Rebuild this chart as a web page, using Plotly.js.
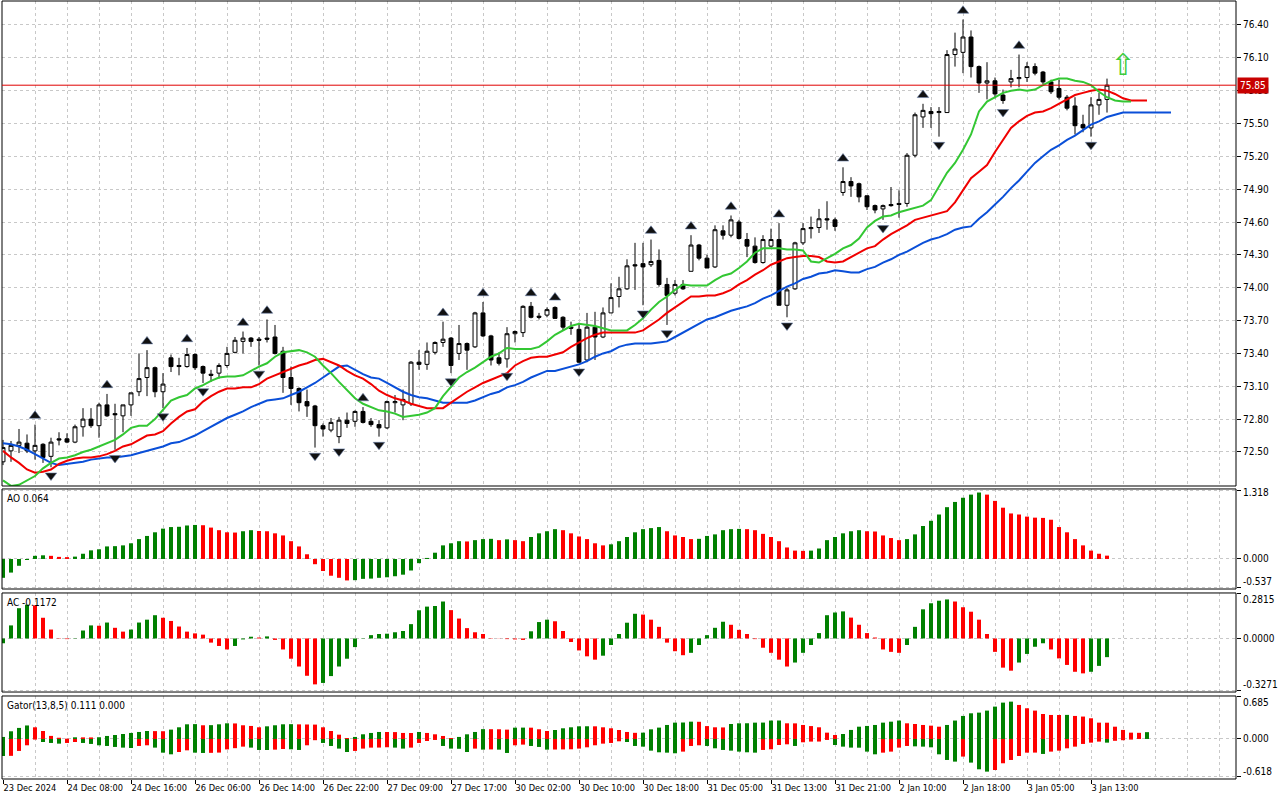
<!DOCTYPE html>
<html>
<head>
<meta charset="utf-8">
<script src="https://cdn.plot.ly/plotly-3.0.1.min.js"></script>
<style>
  html, body { margin: 0; padding: 0; background: #fff; }
  #plot { width: 1280px; height: 800px; }
</style>
</head>
<body>
<div id="plot"></div>
<script>
// H1 bars, one label every 8 bars
var timeLabels = ['23 Dec 2024', '24 Dec 08:00', '24 Dec 16:00', '26 Dec 06:00', '26 Dec 14:00', '26 Dec 22:00',
  '27 Dec 09:00', '27 Dec 17:00', '30 Dec 02:00', '30 Dec 10:00', '30 Dec 18:00', '31 Dec 05:00',
  '31 Dec 13:00', '31 Dec 21:00', '2 Jan 10:00', '2 Jan 18:00', '3 Jan 05:00', '3 Jan 13:00'];

var open = [72.41,72.51,72.56,72.58,72.51,72.57,72.46,72.62,72.62,72.59,
  72.73,72.80,72.74,72.93,72.85,72.83,72.93,73.05,73.18,73.27,
  73.05,73.36,73.29,73.28,73.39,73.28,73.21,73.22,73.29,73.41,
  73.51,73.54,73.53,73.54,73.55,73.42,73.18,73.08,72.96,72.92,
  72.74,72.70,72.64,72.79,72.78,72.87,72.78,72.75,72.72,72.95,
  72.93,72.94,73.32,73.30,73.41,73.50,73.54,73.40,73.49,73.46,
  73.77,73.56,73.36,73.35,73.58,73.59,73.83,73.74,73.75,73.82,
  73.73,73.64,73.62,73.34,73.64,73.55,73.77,73.92,73.99,74.21,
  74.22,74.21,74.25,74.03,73.95,74.03,74.15,74.39,74.27,74.19,
  74.52,74.48,74.60,74.44,74.38,74.23,74.38,74.44,73.84,73.99,
  74.41,74.54,74.55,74.63,74.62,74.87,74.97,74.95,74.84,74.75,
  74.72,74.76,74.77,74.77,75.21,75.56,75.61,75.60,75.60,76.13,
  76.15,76.29,76.02,75.87,75.89,75.76,75.88,75.91,75.92,76.02,
  75.97,75.88,75.82,75.74,75.66,75.49,75.46,75.67,75.72];
var high = [72.61,72.60,72.71,72.66,72.75,72.58,72.63,72.68,72.67,72.75,
  72.90,72.90,72.95,73.03,72.94,72.93,73.04,73.40,73.43,73.28,
  73.22,73.39,73.36,73.45,73.40,73.29,73.25,73.31,73.46,73.55,
  73.60,73.55,73.55,73.71,73.66,73.46,73.28,73.09,73.07,72.93,
  72.76,72.81,72.82,72.86,72.88,72.91,72.81,72.79,72.97,73.02,
  73.07,73.33,73.43,73.50,73.51,73.69,73.55,73.66,73.50,73.78,
  73.87,73.57,73.41,73.64,73.61,73.84,73.87,73.77,73.82,73.83,
  73.74,73.69,73.68,73.77,73.78,73.82,74.04,74.10,74.26,74.41,
  74.41,74.44,74.35,74.09,74.07,74.07,74.48,74.40,74.30,74.57,
  74.57,74.66,74.62,74.50,74.46,74.48,74.54,74.59,74.00,74.42,
  74.59,74.65,74.72,74.79,74.64,75.10,75.01,74.96,74.84,74.76,
  74.76,74.92,74.89,75.23,75.60,75.68,75.65,75.65,76.17,76.33,
  76.45,76.35,76.03,76.06,75.92,75.81,75.99,76.13,76.06,76.05,
  75.98,75.90,75.90,75.76,75.74,75.58,75.74,75.78,75.91];
var low = [72.38,72.41,72.49,72.49,72.43,72.40,72.36,72.56,72.58,72.58,
  72.64,72.72,72.63,72.82,72.52,72.68,72.83,73.01,73.01,73.00,
  72.90,73.23,73.20,73.27,73.25,73.13,73.14,73.17,73.27,73.40,
  73.40,73.46,73.29,73.50,73.39,73.04,72.93,72.87,72.82,72.54,
  72.64,72.68,72.58,72.72,72.73,72.76,72.73,72.64,72.71,72.86,
  72.79,72.92,73.25,73.25,73.39,73.46,73.22,73.34,73.25,73.45,
  73.55,73.29,73.29,73.27,73.50,73.55,73.72,73.71,73.73,73.72,
  73.61,73.57,73.31,73.32,73.34,73.54,73.77,73.82,73.98,73.98,
  73.84,74.19,74.01,73.66,73.93,73.98,74.15,74.25,74.18,74.18,
  74.44,74.46,74.44,74.28,74.22,74.22,74.37,73.84,73.73,73.98,
  74.39,74.45,74.50,74.53,74.52,74.84,74.83,74.78,74.71,74.68,
  74.62,74.74,74.64,74.74,75.19,75.46,75.46,75.38,75.60,76.02,
  75.96,75.92,75.78,75.72,75.73,75.68,75.83,75.83,75.88,75.94,
  75.86,75.77,75.72,75.62,75.40,75.42,75.38,75.58,75.60];
var close = [72.54,72.56,72.59,72.51,72.56,72.45,72.59,72.61,72.59,72.73,
  72.80,72.74,72.93,72.83,72.84,72.93,73.04,73.17,73.27,73.05,
  73.12,73.28,73.28,73.39,73.27,73.22,73.20,73.29,73.40,73.52,
  73.54,73.51,73.52,73.53,73.40,73.18,73.08,72.95,72.92,72.74,
  72.71,72.77,72.79,72.76,72.87,72.77,72.75,72.72,72.96,72.96,
  72.98,73.32,73.30,73.42,73.50,73.53,73.29,73.49,73.43,73.77,
  73.56,73.34,73.31,73.58,73.60,73.83,73.73,73.73,73.80,73.72,
  73.64,73.63,73.32,73.64,73.55,73.77,73.91,73.99,74.20,74.20,
  74.19,74.24,74.03,73.93,74.03,73.99,74.39,74.27,74.18,74.53,
  74.48,74.62,74.45,74.38,74.23,74.44,74.44,73.84,73.98,74.41,
  74.54,74.55,74.63,74.62,74.56,74.97,74.93,74.83,74.74,74.71,
  74.75,74.75,74.76,75.21,75.58,75.62,75.59,75.61,76.13,76.18,
  76.29,76.02,75.87,75.89,75.77,75.71,75.91,75.92,76.02,75.96,
  75.88,75.79,75.74,75.64,75.48,75.46,75.67,75.72,75.85];

// Alligator, as drawn (already shifted forward)
var jaw = [72.58,72.57,72.55,72.52,72.48,72.44,72.40,72.38,72.39,72.40,
  72.41,72.43,72.44,72.45,72.45,72.46,72.47,72.49,72.51,72.53,
  72.55,72.58,72.59,72.62,72.65,72.69,72.73,72.77,72.81,72.84,
  72.87,72.91,72.94,72.97,72.98,72.99,73.02,73.05,73.09,73.13,
  73.18,73.23,73.28,73.29,73.25,73.21,73.18,73.17,73.13,73.09,
  73.05,73.02,73.00,72.99,72.97,72.95,72.95,72.95,72.95,72.97,
  73.00,73.03,73.05,73.09,73.11,73.14,73.18,73.21,73.24,73.24,
  73.26,73.28,73.30,73.33,73.37,73.40,73.42,73.46,73.48,73.49,
  73.49,73.49,73.50,73.51,73.55,73.59,73.63,73.67,73.71,73.73,
  73.76,73.79,73.81,73.83,73.86,73.90,73.93,73.97,74.01,74.04,
  74.08,74.10,74.13,74.14,74.16,74.15,74.14,74.14,74.17,74.19,
  74.23,74.26,74.30,74.33,74.37,74.41,74.44,74.46,74.49,74.53,
  74.55,74.56,74.63,74.69,74.76,74.83,74.91,74.98,75.06,75.14,
  75.20,75.26,75.30,75.35,75.39,75.44,75.49,75.52,75.56,75.58,
  75.60,75.60,75.60,75.60,75.60,75.60,75.60];
var teeth = [72.51,72.45,72.40,72.34,72.31,72.32,72.34,72.39,72.42,72.44,
  72.45,72.45,72.46,72.48,72.51,72.55,72.57,72.61,72.65,72.66,
  72.69,72.76,72.82,72.87,72.89,72.96,73.01,73.05,73.08,73.08,
  73.09,73.09,73.12,73.17,73.20,73.23,73.26,73.29,73.31,73.34,
  73.35,73.32,73.29,73.24,73.20,73.17,73.12,73.06,73.02,72.99,
  72.97,72.94,72.92,72.90,72.90,72.90,72.95,73.00,73.05,73.09,
  73.13,73.16,73.19,73.22,73.29,73.33,73.36,73.37,73.37,73.39,
  73.41,73.46,73.50,73.54,73.57,73.59,73.59,73.59,73.59,73.59,
  73.61,73.66,73.71,73.77,73.82,73.87,73.92,73.92,73.93,73.93,
  73.95,73.98,74.03,74.07,74.12,74.16,74.21,74.24,74.27,74.28,
  74.29,74.29,74.28,74.24,74.23,74.24,74.28,74.32,74.36,74.38,
  74.44,74.49,74.53,74.57,74.62,74.64,74.66,74.68,74.70,74.78,
  74.89,75.00,75.06,75.12,75.24,75.35,75.46,75.52,75.57,75.60,
  75.61,75.64,75.68,75.72,75.76,75.78,75.80,75.81,75.80,75.77,
  75.73,75.71,75.71,75.71];
var lips = [72.24,72.19,72.20,72.24,72.28,72.35,72.40,72.44,72.45,72.47,
  72.50,72.52,72.55,72.58,72.61,72.66,72.72,72.74,72.74,72.80,
  72.89,72.97,73.00,73.02,73.08,73.11,73.15,73.18,73.19,73.19,
  73.20,73.24,73.28,73.31,73.37,73.41,73.42,73.43,73.41,73.37,
  73.29,73.22,73.14,73.06,72.99,72.94,72.91,72.88,72.87,72.85,
  72.82,72.83,72.84,72.86,72.90,73.01,73.10,73.18,73.23,73.27,
  73.32,73.37,73.40,73.45,73.44,73.44,73.44,73.46,73.51,73.57,
  73.61,73.65,73.67,73.66,73.65,73.63,73.61,73.61,73.61,73.66,
  73.72,73.80,73.87,73.92,73.98,74.03,74.02,74.02,74.02,74.07,
  74.11,74.13,74.18,74.24,74.32,74.36,74.36,74.36,74.35,74.35,
  74.34,74.24,74.23,74.27,74.31,74.36,74.39,74.45,74.55,74.61,
  74.65,74.66,74.69,74.71,74.73,74.75,74.80,74.92,75.05,75.14,
  75.26,75.40,75.61,75.70,75.74,75.78,75.80,75.81,75.80,75.81,
  75.85,75.89,75.91,75.91,75.89,75.88,75.85,75.79,75.74,75.71,
  75.70,75.70];

var fractalUp = [4,13,18,23,30,33,45,55,60,66,69,81,86,91,97,105,115,120,127];
var fractalDown = [6,14,20,25,32,39,42,47,56,63,72,80,83,98,110,117,125,136];

var ao = [-0.36,-0.26,-0.13,-0.02,0.06,0.07,0.06,0.04,0.035,0.045,
  0.10,0.165,0.185,0.24,0.245,0.26,0.30,0.38,0.44,0.51,
  0.58,0.61,0.615,0.64,0.65,0.645,0.60,0.55,0.51,0.505,
  0.53,0.55,0.535,0.53,0.49,0.45,0.34,0.24,0.09,-0.10,
  -0.23,-0.32,-0.36,-0.41,-0.405,-0.38,-0.375,-0.36,-0.35,-0.33,
  -0.30,-0.22,-0.08,0.02,0.12,0.26,0.30,0.34,0.335,0.36,
  0.38,0.385,0.36,0.375,0.36,0.34,0.42,0.49,0.53,0.57,
  0.55,0.49,0.43,0.38,0.30,0.26,0.28,0.34,0.42,0.51,
  0.57,0.59,0.61,0.53,0.45,0.42,0.38,0.385,0.44,0.47,
  0.55,0.57,0.575,0.57,0.55,0.48,0.42,0.34,0.22,0.16,
  0.155,0.16,0.20,0.36,0.42,0.49,0.53,0.55,0.53,0.525,
  0.45,0.40,0.36,0.38,0.47,0.63,0.73,0.85,0.99,1.09,
  1.17,1.23,1.27,1.23,1.11,0.98,0.87,0.85,0.81,0.79,
  0.785,0.75,0.61,0.51,0.38,0.26,0.16,0.10,0.064];

var ac = [-0.03,0.082,0.19,0.212,0.208,0.13,0.056,0.002,-0.004,0.002,
  0.05,0.082,0.080,0.10,0.067,0.043,0.056,0.10,0.118,0.146,
  0.13,0.11,0.075,0.043,0.032,0.024,-0.026,-0.047,-0.069,-0.047,
  -0.006,0.011,0.006,0.013,-0.009,-0.069,-0.127,-0.176,-0.234,-0.288,
  -0.279,-0.236,-0.176,-0.127,-0.054,0.002,0.021,0.028,0.030,0.039,
  0.047,0.09,0.177,0.20,0.204,0.232,0.178,0.125,0.065,0.039,
  0.028,0.002,-0.001,-0.004,-0.006,-0.009,0.045,0.103,0.118,0.108,
  0.047,-0.022,-0.075,-0.112,-0.133,-0.108,-0.041,0.028,0.099,0.155,
  0.150,0.118,0.073,-0.026,-0.080,-0.105,-0.090,-0.041,0.021,0.067,
  0.105,0.086,0.054,0.028,-0.004,-0.058,-0.090,-0.133,-0.176,-0.151,
  -0.090,-0.041,0.034,0.146,0.163,0.170,0.131,0.086,0.034,0.006,
  -0.069,-0.084,-0.090,-0.041,0.073,0.183,0.221,0.237,0.245,0.232,
  0.196,0.168,0.118,0.028,-0.084,-0.183,-0.202,-0.151,-0.097,-0.052,
  -0.030,-0.069,-0.125,-0.166,-0.209,-0.219,-0.209,-0.172,-0.1172];

var gatorUp = [0.033,0.125,0.18,0.22,0.19,0.13,0.05,0.02,0.005,0.027,
  0.026,0.025,0.028,0.049,0.065,0.081,0.098,0.114,0.13,0.128,
  0.126,0.152,0.19,0.239,0.242,0.223,0.225,0.239,0.255,0.253,
  0.223,0.212,0.19,0.206,0.223,0.239,0.241,0.238,0.236,0.234,
  0.19,0.13,0.07,0.016,0.033,0.076,0.098,0.114,0.113,0.112,
  0.098,0.097,0.114,0.098,0.076,0.049,0.016,0.033,0.076,0.114,
  0.16,0.159,0.158,0.152,0.184,0.185,0.184,0.158,0.13,0.146,
  0.174,0.19,0.206,0.207,0.206,0.19,0.174,0.146,0.114,0.10,
  0.103,0.157,0.185,0.228,0.266,0.268,0.282,0.280,0.21,0.19,
  0.188,0.244,0.255,0.256,0.266,0.267,0.30,0.301,0.255,0.254,
  0.228,0.21,0.19,0.103,0.065,0.081,0.147,0.20,0.212,0.228,
  0.266,0.282,0.30,0.255,0.244,0.228,0.217,0.20,0.228,0.30,
  0.375,0.418,0.429,0.462,0.527,0.592,0.608,0.554,0.50,0.462,
  0.407,0.391,0.390,0.392,0.375,0.365,0.337,0.266,0.265,0.20,
  0.147,0.103,0.10,0.111];
var gatorDown = [-0.277,-0.275,-0.195,-0.103,-0.01,-0.049,-0.065,-0.076,-0.065,-0.049,
  -0.065,-0.081,-0.103,-0.114,-0.13,-0.141,-0.147,-0.114,-0.103,-0.141,
  -0.223,-0.25,-0.212,-0.185,-0.223,-0.228,-0.226,-0.222,-0.17,-0.15,
  -0.125,-0.141,-0.179,-0.18,-0.174,-0.163,-0.168,-0.179,-0.103,-0.02,
  -0.065,-0.114,-0.157,-0.212,-0.195,-0.157,-0.141,-0.14,-0.135,-0.141,
  -0.157,-0.141,-0.065,-0.033,-0.016,-0.114,-0.157,-0.16,-0.212,-0.157,
  -0.174,-0.17,-0.174,-0.228,-0.103,-0.092,-0.114,-0.13,-0.174,-0.172,
  -0.170,-0.168,-0.157,-0.136,-0.103,-0.076,-0.065,-0.038,-0.049,-0.114,
  -0.125,-0.19,-0.217,-0.223,-0.233,-0.206,-0.114,-0.103,-0.114,-0.152,
  -0.179,-0.19,-0.206,-0.217,-0.223,-0.179,-0.168,-0.098,-0.087,-0.114,
  -0.054,-0.043,-0.042,-0.016,-0.098,-0.125,-0.141,-0.142,-0.206,-0.25,
  -0.223,-0.206,-0.141,-0.114,-0.12,-0.125,-0.136,-0.25,-0.342,-0.369,
  -0.287,-0.385,-0.494,-0.532,-0.505,-0.396,-0.342,-0.277,-0.223,-0.222,
  -0.244,-0.206,-0.19,-0.152,-0.125,-0.081,-0.060,-0.043,-0.06,-0.03,
  -0.02,-0.01];

var lastPrice = 75.85;
var priceTicks = [72.50,72.80,73.10,73.40,73.70,74.00,74.30,74.60,74.90,75.20,75.50,75.80,76.10,76.40];
// scale limits shown on each sub-window: [bottom, top]
var aoScale = [-0.537, 1.318];
var acScale = [-0.3271, 0.2815];
var gatorScale = [-0.618, 0.685];
var signalBar = [140];
var signalPrice = [76.01];

var GREEN = '#008000', RED = '#ff0000';
var GRID = '#c8c8c8';
var tickFont = {family: 'DejaVu Sans Condensed, DejaVu Sans, sans-serif', size: 10, color: '#000'};
var timeFont = {family: 'DejaVu Sans Condensed, DejaVu Sans, sans-serif', size: 9.2, color: '#000'};

function idx(arr) { return arr.map(function (v, i) { return i; }); }
function upDownColors(arr, useAbs) {
   return arr.map(function (v, i) {
      if (i === 0) return GREEN;
      var a = useAbs ? Math.abs(v) : v, b = useAbs ? Math.abs(arr[i - 1]) : arr[i - 1];
      return a >= b ? GREEN : RED;
   });
}

var bars = idx(close);

var candles = {
   type: 'candlestick', x: bars, open: open, high: high, low: low, close: close,
   xaxis: 'x', yaxis: 'y',
   increasing: {line: {color: '#000', width: 1}, fillcolor: '#ffffff'},
   decreasing: {line: {color: '#000', width: 1}, fillcolor: '#000000'},
   whiskerwidth: 0, hoverinfo: 'skip'
};
function line(vals, color) {
   return {type: 'scatter', mode: 'lines', x: idx(vals), y: vals, xaxis: 'x', yaxis: 'y',
      line: {color: color, width: 2}, hoverinfo: 'skip'};
}
var jawTrace = line(jaw, '#0a4fd8');
var teethTrace = line(teeth, '#f00000');
var lipsTrace = line(lips, '#33c733');

var upTrace = {
   type: 'scatter', mode: 'markers', xaxis: 'x', yaxis: 'y',
   x: fractalUp, y: fractalUp.map(function (i) { return high[i] + 0.08; }),
   marker: {symbol: 'triangle-up', size: 10, color: '#111', line: {color: '#6a7fa8', width: 0.6}},
   hoverinfo: 'skip'
};
var downTrace = {
   type: 'scatter', mode: 'markers', xaxis: 'x', yaxis: 'y',
   x: fractalDown, y: fractalDown.map(function (i) { return low[i] - 0.075; }),
   marker: {symbol: 'triangle-down', size: 10, color: '#111', line: {color: '#6a7fa8', width: 0.6}},
   hoverinfo: 'skip'
};
var signalTrace = {
   type: 'scatter', mode: 'text', xaxis: 'x', yaxis: 'y',
   x: signalBar, y: signalPrice, text: ['\u21E7'],
   textfont: {family: 'DejaVu Sans', size: 30, color: '#3ccc3c'}, hoverinfo: 'skip'
};

var aoTrace = {type: 'bar', x: idx(ao), y: ao, xaxis: 'x', yaxis: 'y2', width: 0.5,
   marker: {color: upDownColors(ao, false), line: {width: 0}}, hoverinfo: 'skip'};
var acTrace = {type: 'bar', x: idx(ac), y: ac, xaxis: 'x', yaxis: 'y3', width: 0.5,
   marker: {color: upDownColors(ac, false), line: {width: 0}}, hoverinfo: 'skip'};
var gatorUpTrace = {type: 'bar', x: idx(gatorUp), y: gatorUp, xaxis: 'x', yaxis: 'y4', width: 0.5,
   marker: {color: upDownColors(gatorUp, true), line: {width: 0}}, hoverinfo: 'skip'};
var gatorDownTrace = {type: 'bar', x: idx(gatorDown), y: gatorDown, xaxis: 'x', yaxis: 'y4', width: 0.5,
   marker: {color: upDownColors(gatorDown, true), line: {width: 0}}, hoverinfo: 'skip'};

var traces = [candles, jawTrace, teethTrace, lipsTrace, upTrace, downTrace, signalTrace,
   aoTrace, acTrace, gatorUpTrace, gatorDownTrace];

var dMain = [0.3766, 1], dAO = [0.2442, 0.3728], dAC = [0.1118, 0.2391], dGator = [0, 0.1067];

function subAxis(domain, range, scale) {
   return {
      domain: domain, anchor: 'x', side: 'right', range: range,
      tickmode: 'array', tickvals: [scale[0], 0, scale[1]], ticktext: ['', '0.000', ''],
      ticks: 'outside', ticklen: 4, tickcolor: '#000', tickfont: tickFont,
      showgrid: true, gridcolor: GRID, griddash: '3px,3px', zeroline: false, showline: false,
      fixedrange: true
   };
}
function scaleLabels(domain, scale, digits, topShift) {
   return [
      {xref: 'paper', yref: 'paper', x: 1, y: domain[1], xanchor: 'left', yanchor: 'top', xshift: 5, yshift: topShift,
         text: scale[1].toFixed(digits), showarrow: false, font: tickFont},
      {xref: 'paper', yref: 'paper', x: 1, y: domain[0], xanchor: 'left', yanchor: 'bottom', xshift: 5, yshift: 0,
         text: scale[0].toFixed(digits), showarrow: false, font: tickFont}
   ];
}

var acAxis = subAxis(dAC, [-0.336, 0.2855], acScale);
acAxis.ticktext = ['', '0.0000', ''];

var layout = {
   width: 1280, height: 800,
   margin: {l: 2, r: 44, t: 1, b: 21},
   paper_bgcolor: '#ffffff', plot_bgcolor: '#ffffff',
   showlegend: false, barmode: 'overlay',
   xaxis: {
      domain: [0, 1], anchor: 'y4', range: [-0.125, 154.125],
      tickmode: 'array', tickvals: timeLabels.map(function (t, i) { return i * 8; }), ticktext: timeLabels,
      tickangle: 0, ticks: 'outside', ticklen: 4, tickcolor: '#000', tickfont: timeFont,
      ticklabelposition: 'outside right',
      showgrid: true, gridcolor: GRID, griddash: '3px,3px',
      minor: {tickmode: 'linear', tick0: 0, dtick: 4, showgrid: true, gridcolor: GRID, griddash: '3px,3px', ticks: ''},
      zeroline: false, showline: false, rangeslider: {visible: false}, fixedrange: true
   },
   yaxis: {
      domain: dMain, anchor: 'x', side: 'right', range: [72.189, 76.619],
      tickmode: 'array', tickvals: priceTicks, ticktext: priceTicks.map(function (v) { return v.toFixed(2); }),
      ticks: 'outside', ticklen: 4, tickcolor: '#000', tickfont: tickFont,
      showgrid: true, gridcolor: GRID, griddash: '3px,3px', zeroline: false, showline: false, fixedrange: true
   },
   yaxis2: subAxis(dAO, [-0.574, 1.338], aoScale),
   yaxis3: acAxis,
   yaxis4: subAxis(dGator, [-0.652, 0.700], gatorScale),
   shapes: [dMain, dAO, dAC, dGator].map(function (d) {
      return {type: 'rect', xref: 'paper', yref: 'paper', x0: 0, x1: 1, y0: d[0], y1: d[1],
         line: {color: '#000', width: 1}, fillcolor: 'rgba(0,0,0,0)'};
   }).concat([{
      type: 'line', xref: 'paper', yref: 'y', x0: 0, x1: 1, y0: lastPrice, y1: lastPrice,
      line: {color: '#e00000', width: 1}
   }]),
   annotations: [
      {xref: 'paper', yref: 'paper', x: 0, y: dAO[1], xanchor: 'left', yanchor: 'top', xshift: 3, yshift: -2,
         text: 'AO ' + ao[ao.length - 1].toFixed(3), showarrow: false, font: tickFont},
      {xref: 'paper', yref: 'paper', x: 0, y: dAC[1], xanchor: 'left', yanchor: 'top', xshift: 3, yshift: -2,
         text: 'AC ' + ac[ac.length - 1].toFixed(4), showarrow: false, font: tickFont},
      {xref: 'paper', yref: 'paper', x: 0, y: dGator[1], xanchor: 'left', yanchor: 'top', xshift: 3, yshift: -2,
         text: 'Gator(13,8,5) ' + gatorUp[gatorUp.length - 1].toFixed(3) + ' 0.000', showarrow: false, font: tickFont},
      {xref: 'paper', yref: 'y', x: 1, y: lastPrice, xanchor: 'left', yanchor: 'middle', xshift: 1,
         text: lastPrice.toFixed(2), showarrow: false, bgcolor: '#c80000', borderpad: 2,
         font: {family: tickFont.family, size: 10, color: '#ffffff'}}
   ].concat(scaleLabels(dAO, aoScale, 3, 4))
    .concat(scaleLabels(dAC, acScale, 4, 1))
    .concat(scaleLabels(dGator, gatorScale, 3, 1))
};

Plotly.newPlot(document.getElementById('plot'), traces, layout, {staticPlot: true, displayModeBar: false});
</script>
</body>
</html>
